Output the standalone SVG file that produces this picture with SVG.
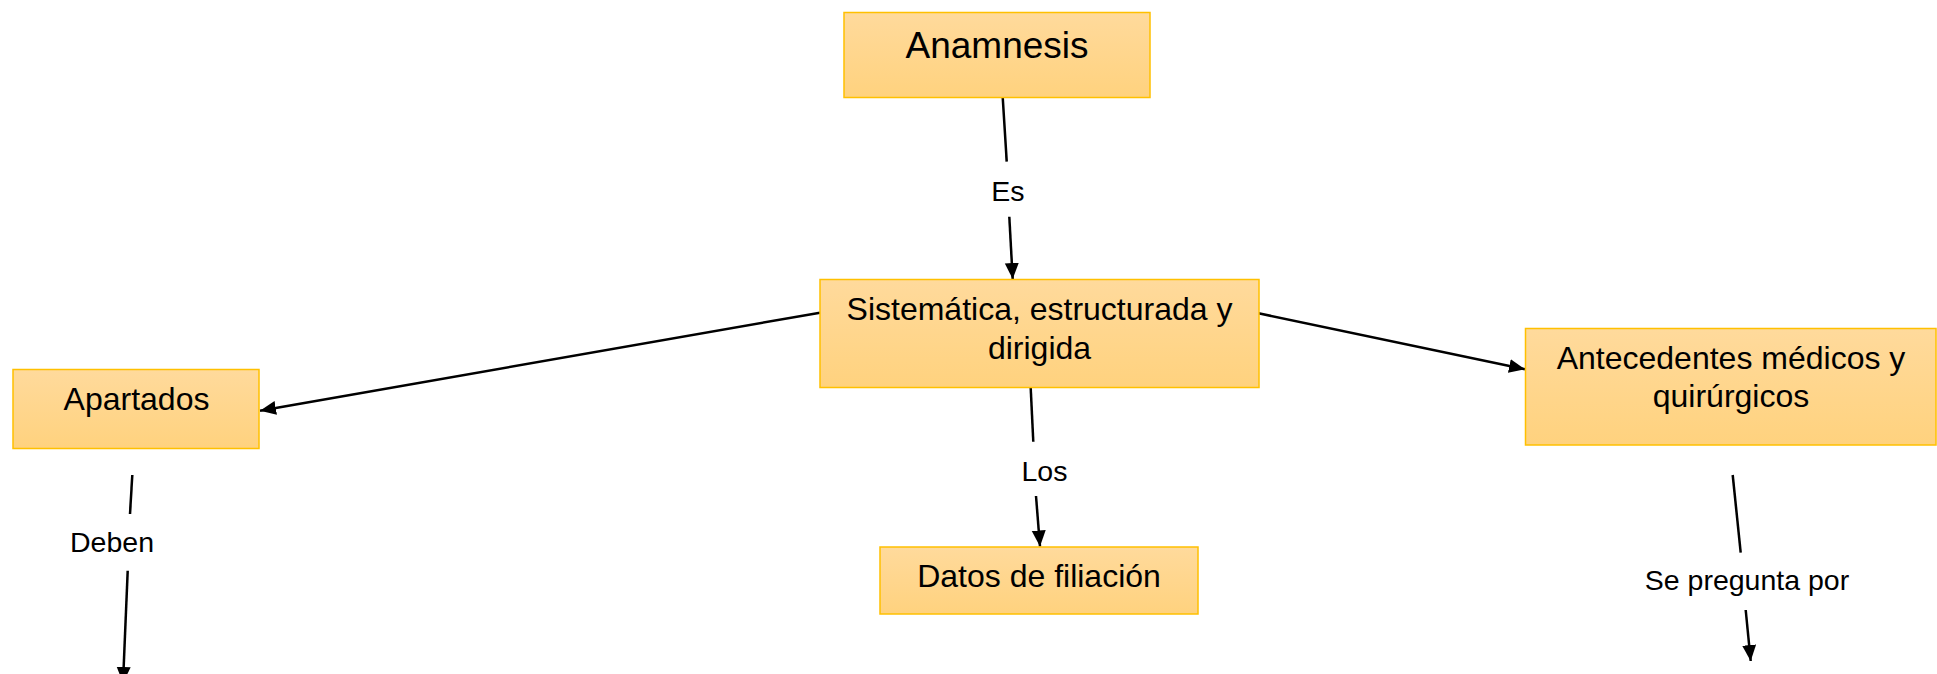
<svg xmlns="http://www.w3.org/2000/svg" width="1937" height="674" viewBox="0 0 1937 674">
  <defs>
    <linearGradient id="boxFill" x1="0" y1="0" x2="0" y2="1">
      <stop offset="0" stop-color="#FFDA9C"/>
      <stop offset="1" stop-color="#FFD27E"/>
    </linearGradient>
    <marker id="arrow" markerUnits="userSpaceOnUse" markerWidth="17" markerHeight="15" refX="16" refY="7" orient="auto">
      <path d="M0,0 L16,7 L0,14 Z" fill="#000"/>
    </marker>
    <style>
      .box { fill: url(#boxFill); stroke: #FFC000; stroke-width: 1.5; }
      .node { font-family: "Liberation Sans", Arial, sans-serif; font-size: 32px; fill: #000; text-anchor: middle; }
      .title { font-size: 37px; }
      .lbl { font-family: "Liberation Sans", Arial, sans-serif; font-size: 28.5px; fill: #000; text-anchor: middle; }
      .edge { stroke: #000; stroke-width: 2.5; fill: none; }
    </style>
  </defs>
  <rect width="1937" height="674" fill="#FFFFFF"/>

  <g id="connectors">
    <line class="edge" x1="1002.7" y1="97" x2="1006.7" y2="161.7"/>
    <line class="edge" x1="1009.3" y1="216.7" x2="1012.7" y2="279" marker-end="url(#arrow)"/>
    <text class="lbl" x="1008" y="201">Es</text>

    <line class="edge" x1="820" y1="312.7" x2="260" y2="410.7" marker-end="url(#arrow)"/>
    <line class="edge" x1="1258.5" y1="313.3" x2="1525" y2="369.3" marker-end="url(#arrow)"/>

    <line class="edge" x1="1030.7" y1="388" x2="1033.3" y2="441.7"/>
    <line class="edge" x1="1036" y1="496" x2="1040" y2="546.5" marker-end="url(#arrow)"/>
    <text class="lbl" x="1044.5" y="481">Los</text>

    <line class="edge" x1="132.3" y1="475" x2="130" y2="514"/>
    <line class="edge" x1="127.7" y1="570.7" x2="123" y2="683" marker-end="url(#arrow)"/>
    <text class="lbl" x="112" y="551.7">Deben</text>

    <line class="edge" x1="1732.7" y1="475" x2="1740.7" y2="552.7"/>
    <line class="edge" x1="1745.7" y1="610" x2="1750.7" y2="661" marker-end="url(#arrow)"/>
    <text class="lbl" x="1747" y="590">Se pregunta por</text>
  </g>

  <g id="node-anamnesis">
    <rect class="box" x="844" y="12.5" width="306" height="85"/>
    <text class="node title" x="997" y="58">Anamnesis</text>
  </g>

  <g id="node-sistematica">
    <rect class="box" x="820" y="279.5" width="439" height="108"/>
    <text class="node" x="1039.5" y="320">Sistemática, estructurada y</text>
    <text class="node" x="1039.5" y="359">dirigida</text>
  </g>

  <g id="node-apartados">
    <rect class="box" x="13" y="369.5" width="246" height="79"/>
    <text class="node" x="136.5" y="410">Apartados</text>
  </g>

  <g id="node-datos">
    <rect class="box" x="880" y="547" width="318" height="67"/>
    <text class="node" x="1039" y="586.7">Datos de filiación</text>
  </g>

  <g id="node-antecedentes">
    <rect class="box" x="1525.5" y="328.5" width="410.5" height="116.5"/>
    <text class="node" x="1731" y="369.3">Antecedentes médicos y</text>
    <text class="node" x="1731" y="407.3">quirúrgicos</text>
  </g>
</svg>
